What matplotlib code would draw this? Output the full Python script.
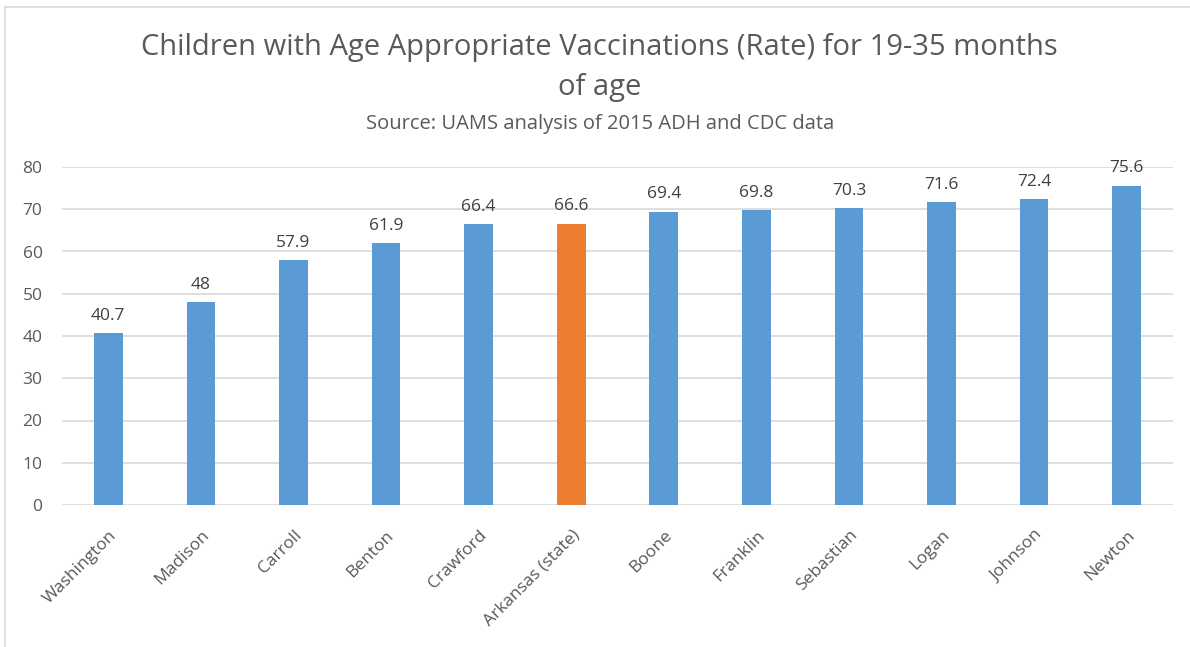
import matplotlib.pyplot as plt
from matplotlib.lines import Line2D

plt.rcParams["font.family"] = ["Open Sans", "DejaVu Sans"]

counties = ["Washington", "Madison", "Carroll", "Benton", "Crawford",
            "Arkansas (state)", "Boone", "Franklin", "Sebastian", "Logan",
            "Johnson", "Newton"]
rates = [40.7, 48, 57.9, 61.9, 66.4, 66.6, 69.4, 69.8, 70.3, 71.6, 72.4, 75.6]
labels = ["40.7", "48", "57.9", "61.9", "66.4", "66.6", "69.4", "69.8",
          "70.3", "71.6", "72.4", "75.6"]
highlight = "Arkansas (state)"

text_col = "#595959"
colors = ["#ED7D31" if c == highlight else "#5B9BD5" for c in counties]

fig = plt.figure(figsize=(11.9, 6.47), dpi=100)
ax = fig.add_axes([62 / 1190, 1 - 505 / 647, (1173 - 62) / 1190, (505 - 167) / 647])

x = range(len(counties))
ax.bar(x, rates, width=0.31, color=colors, zorder=3)
for i, (v, s) in enumerate(zip(rates, labels)):
    ax.text(i, v + 2.2, s, ha="center", va="bottom", fontsize=12.5, color="#404040")

ax.set_xlim(-0.5, len(counties) - 0.5)
ax.set_ylim(0, 80)
ax.set_yticks(range(0, 81, 10))
ax.yaxis.grid(True, color="#D9D9D9", linewidth=1.2, zorder=0)
ax.tick_params(axis="both", length=0, labelsize=12.5, labelcolor=text_col)
ax.tick_params(axis="y", pad=14)
ax.tick_params(axis="x", pad=16)
ax.set_xticks(list(x))
ax.set_xticklabels(counties, rotation=45, ha="right", rotation_mode="anchor")
for sp in ax.spines.values():
    sp.set_visible(False)

fig.text(0.504, 1 - 48 / 647, "Children with Age Appropriate Vaccinations (Rate) for 19-35 months",
         ha="center", va="center", fontsize=21, color=text_col)
fig.text(0.504, 1 - 88 / 647, "of age", ha="center", va="center", fontsize=21, color=text_col)
fig.text(0.504, 1 - 124 / 647, "Source: UAMS analysis of 2015 ADH and CDC data",
         ha="center", va="center", fontsize=14.5, color=text_col)

# chart frame: only top and left edges are visible in the crop
fig.add_artist(Line2D([5 / 1190, 5 / 1190], [0, 1 - 7 / 647], transform=fig.transFigure,
                      color="#D9D9D9", linewidth=1.2))
fig.add_artist(Line2D([5 / 1190, 1], [1 - 7 / 647, 1 - 7 / 647], transform=fig.transFigure,
                      color="#D9D9D9", linewidth=1.2))

fig.savefig("out.png", dpi=100)
